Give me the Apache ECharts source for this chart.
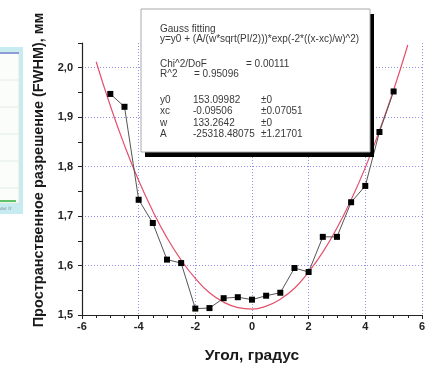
<!DOCTYPE html>
<html>
<head>
<meta charset="utf-8">
<script src="https://cdn.jsdelivr.net/npm/echarts@6/dist/echarts.min.js"></script>
<style>html,body{margin:0;padding:0;background:#fff;}#c{width:428px;height:369px;}</style>
</head>
<body>
<div id="c"></div>
<script>
// Measured data (angle in degrees, FWHM in mm)
const angles = [-5, -4.5, -4, -3.5, -3, -2.5, -2, -1.5, -1, -0.5, 0, 0.5, 1, 1.5, 2, 2.5, 3, 3.5, 4, 4.5, 5];
const fwhm = [1.947, 1.921, 1.733, 1.686, 1.612, 1.605, 1.513, 1.514, 1.534, 1.536, 1.531, 1.539, 1.545, 1.595, 1.587, 1.658, 1.658, 1.728, 1.761, 1.870, 1.952];
// Fit curve
const fitX = [-5.5, -5, -4.5, -4, -3.5, -3, -2.5, -2, -1.5, -1, -0.5, 0, 0.5, 1, 1.5, 2, 2.5, 3, 3.5, 4, 4.5, 5, 5.5];
const fitY = [2.012, 1.923, 1.843, 1.772, 1.710, 1.656, 1.611, 1.574, 1.545, 1.526, 1.515, 1.512, 1.518, 1.532, 1.554, 1.587, 1.627, 1.676, 1.733, 1.798, 1.873, 1.955, 2.046];
const xTitle = 'Угол, градус';
const yTitle = 'Пространственное разрешение (FWHM), мм';
const boxTitle = 'Gauss fitting';
const boxFormula = 'y=y0 + (A/(w*sqrt(PI/2)))*exp(-2*((x-xc)/w)^2)';
const statLabels = ['Chi^2/DoF', 'R^2'];
const statValues = ['= 0.00111', '= 0.95096'];
const paramNames = ['y0', 'xc', 'w', 'A'];
const paramValues = ['153.09982', '-0.09506', '133.2642', '-25318.48075'];
const paramErrors = ['±0', '±0.07051', '±0', '±1.21701'];

const chart = echarts.init(document.getElementById('c'), null, {renderer: 'canvas'});
const grid = '#9090e6';
const FF = 'Liberation Sans, Arial, sans-serif';
const txt = {fontFamily: FF, fontSize: 10, fill: '#3a3a3a'};
const gfx = [];
// partial thumbnail on the left
gfx.push({type: 'rect', shape: {x: -5, y: 47, width: 28, height: 167}, style: {fill: '#c6ecf2'}, z: 1});
gfx.push({type: 'rect', shape: {x: -5, y: 52, width: 24, height: 151}, style: {fill: '#fbfdfb', stroke: '#d8ecd8', lineWidth: 1}, z: 2});
gfx.push({type: 'line', shape: {x1: -5, y1: 53, x2: 19, y2: 53}, style: {stroke: '#6a7fd0', lineWidth: 1.5}, z: 3});
[80, 107, 134, 161, 188].forEach(y => gfx.push({type: 'line', shape: {x1: -5, y1: y, x2: 19, y2: y}, style: {stroke: '#e2eee2', lineWidth: 1}, z: 3}));
gfx.push({type: 'line', shape: {x1: -5, y1: 201, x2: 16, y2: 201}, style: {stroke: '#2fae3a', lineWidth: 1.5}, z: 3});
gfx.push({type: 'text', style: {text: 'ыы іг', x: -2, y: 208, fontFamily: FF, fontSize: 6, fill: '#8a9aa0', textVerticalAlign: 'middle'}, z: 3});
// y title
gfx.push({type: 'text', x: 39, y: 170, rotation: Math.PI / 2,
  style: {text: yTitle, fontFamily: FF, fontWeight: 'bold', fontSize: 14.5, fill: '#1a1a1a', textAlign: 'center', textVerticalAlign: 'middle'}, z: 5});
// fitting box
gfx.push({type: 'rect', shape: {x: 145, y: 14, width: 229, height: 143}, style: {fill: '#000'}, z: 10});
gfx.push({type: 'rect', shape: {x: 141, y: 9, width: 229, height: 143}, style: {fill: '#fff', stroke: '#aaa', lineWidth: 1}, z: 11});
const tline = (s, x, y) => gfx.push({type: 'text', style: Object.assign({}, txt, {text: s, x: x, y: y, textVerticalAlign: 'middle'}), z: 12});
tline(boxTitle, 160, 29);
tline(boxFormula, 160, 39.5);
tline(statLabels[0], 160, 64);
tline(statValues[0], 246, 64);
tline(statLabels[1], 160, 74.5);
tline(statValues[1], 194, 74.5);
const rows = [100, 111.5, 123, 134.5];
paramNames.forEach((n, i) => {
  tline(n, 160, rows[i]);
  tline(paramValues[i], 193, rows[i]);
  tline(paramErrors[i], 261, rows[i]);
});

const ySplitColors = ['transparent', 'transparent', grid, 'transparent', grid, 'transparent', grid, 'transparent', grid, 'transparent', grid, 'transparent'];

chart.setOption({
  animation: false,
  backgroundColor: '#fff',
  grid: {left: 82, right: -2, top: 43, bottom: 46, containLabel: false},
  xAxis: {
    type: 'value', min: -6, max: 6, interval: 2,
    name: xTitle, nameLocation: 'middle', nameGap: 33,
    nameTextStyle: {fontFamily: FF, fontWeight: 'bold', fontSize: 15.5, color: '#1a1a1a'},
    axisLine: {onZero: false, lineStyle: {color: '#222', width: 1.2}},
    axisTick: {show: true, length: 4, lineStyle: {color: '#222'}},
    minorTick: {show: true, splitNumber: 4, length: 3, lineStyle: {color: '#222'}},
    axisLabel: {fontFamily: FF, fontWeight: 'bold', fontSize: 11, color: '#222', margin: 6,
      formatter: v => String(v)},
    splitLine: {show: true, lineStyle: {color: ['transparent', grid, grid, grid, grid, grid, grid], type: [1, 2], width: 1}}
  },
  yAxis: {
    type: 'value', min: 1.5, max: 2.05, interval: 0.05,
    axisLine: {show: true, onZero: false, lineStyle: {color: '#222', width: 1.2}},
    axisTick: {show: true, length: 4, lineStyle: {color: '#222'}},
    axisLabel: {fontFamily: FF, fontWeight: 'bold', fontSize: 11, color: '#222', margin: 9,
      formatter: v => (Math.round(v * 100) % 10 === 0 ? v.toFixed(1).replace('.', ',') : '')},
    splitLine: {show: true, lineStyle: {color: ySplitColors, type: [1, 2], width: 1}}
  },
  series: [
    {
      type: 'line', data: fitX.map((x, i) => [x, fitY[i]]), smooth: true, showSymbol: false,
      lineStyle: {color: '#e5506a', width: 1.2}, z: 3
    },
    {
      type: 'line', data: angles.map((x, i) => [x, fwhm[i]]), symbol: 'rect', symbolSize: 6,
      itemStyle: {color: '#000'}, lineStyle: {color: '#555', width: 1}, z: 4
    }
  ],
  graphic: gfx
});
</script>
</body>
</html>
